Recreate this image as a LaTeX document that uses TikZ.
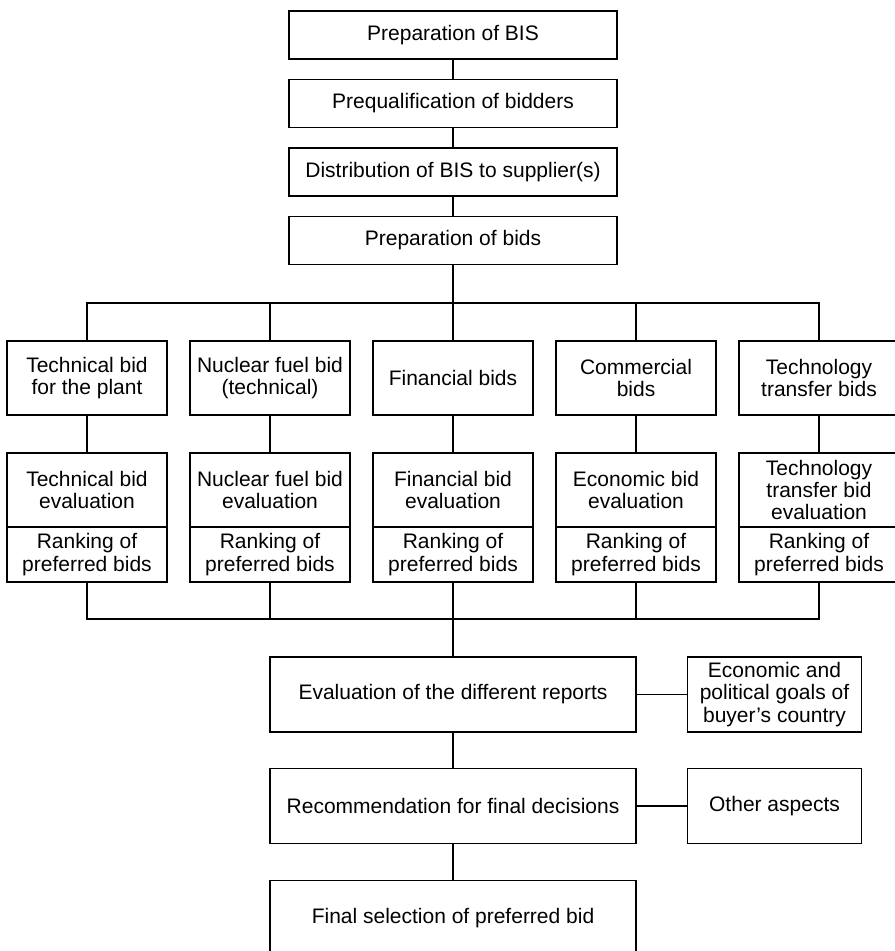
\documentclass[tikz,border=0pt]{standalone}
\usepackage{fontspec}
\setmainfont{Liberation Sans}
\usetikzlibrary{positioning}

\begin{document}
\begin{tikzpicture}[line width=0.6pt, node distance=34.25pt, on grid, auto,
    box/.style={draw, rectangle, align=center, inner sep=1pt, font=\fontsize{10.5pt}{11.2pt}\selectfont},
    topbox/.style={box, minimum width=164pt, minimum height=24pt},
    bidbox/.style={box, minimum width=80pt, minimum height=37pt},
    evbox/.style={box, minimum width=80pt, minimum height=37pt},
    rankbox/.style={box, minimum width=80pt, minimum height=27.5pt},
    bigbox/.style={box, minimum width=183pt, minimum height=37.5pt},
    sidebox/.style={box, minimum width=87pt, minimum height=37.5pt},
    hv/.style={to path={|- (\tikztotarget)}}]
   \useasboundingbox (0,0) rectangle (447pt,-475.5pt);
   % top chain
   \node[topbox] (prep)    at (226.5pt,-17.5pt) {Preparation of BIS};
   \node[topbox] (prequal) [below=of prep]      {Prequalification of bidders};
   \node[topbox] (distr)   [below=of prequal]   {Distribution of BIS to supplier(s)};
   \node[topbox] (bids)    [below=of distr]     {Preparation of bids};
   % the five kinds of bids
   \node[bidbox] (fin)  [below=68.75pt of bids] {Financial bids};
   \node[bidbox] (nuc)  [left=91.5pt of fin]    {Nuclear fuel bid\\(technical)};
   \node[bidbox] (tech) [left=91.5pt of nuc]    {Technical bid\\for the plant};
   \node[bidbox] (com)  [right=91.5pt of fin]   {Commercial\\bids};
   \node[bidbox] (tt)   [right=91.5pt of com]   {Technology\\transfer bids};
   % evaluations
   \node[evbox] (ev_tech) [below=56pt of tech] {Technical bid\\evaluation};
   \node[evbox] (ev_nuc)  [below=56pt of nuc]  {Nuclear fuel bid\\evaluation};
   \node[evbox] (ev_fin)  [below=56pt of fin]  {Financial bid\\evaluation};
   \node[evbox] (ev_com)  [below=56pt of com]  {Economic bid\\evaluation};
   \node[evbox] (ev_tt)   [below=56pt of tt]   {Technology\\transfer bid\\evaluation};
   \node[rankbox] (rk_tech) [below=32.25pt of ev_tech] {Ranking of\\preferred bids};
   \node[rankbox] (rk_nuc)  [below=32.25pt of ev_nuc]  {Ranking of\\preferred bids};
   \node[rankbox] (rk_fin)  [below=32.25pt of ev_fin]  {Ranking of\\preferred bids};
   \node[rankbox] (rk_com)  [below=32.25pt of ev_com]  {Ranking of\\preferred bids};
   \node[rankbox] (rk_tt)   [below=32.25pt of ev_tt]   {Ranking of\\preferred bids};
   % decision chain
   \node[bigbox] (reports) [below=70pt of rk_fin]     {Evaluation of the different reports};
   \node[bigbox] (recom)   [below=55.75pt of reports] {Recommendation for final decisions};
   \node[bigbox] (final)   [below=56pt of recom]      {Final selection of preferred bid};
   \node[sidebox] (goals)  [right=160.75pt of reports] {Economic and\\political goals of\\buyer’s country};
   \node[sidebox] (other)  [right=160.75pt of recom]   {Other aspects};
   \coordinate (split) at (226.5pt,-151.5pt);
   \coordinate (join)  at (226.5pt,-309.5pt);
   \path (prep)    edge (prequal)
         (prequal) edge (distr)
         (distr)   edge (bids)
         (bids)    edge (split)
         (tech)    edge [hv] (split)
         (nuc)     edge [hv] (split)
         (fin)     edge (split)
         (com)     edge [hv] (split)
         (tt)      edge [hv] (split)
         (tech)    edge (ev_tech)
         (nuc)     edge (ev_nuc)
         (fin)     edge (ev_fin)
         (com)     edge (ev_com)
         (tt)      edge (ev_tt)
         (rk_tech) edge [hv] (join)
         (rk_nuc)  edge [hv] (join)
         (rk_fin)  edge (join)
         (rk_com)  edge [hv] (join)
         (rk_tt)   edge [hv] (join)
         (join)    edge (reports)
         (reports) edge (recom)
         (recom)   edge (final)
         (reports) edge (goals)
         (recom)   edge (other);
\end{tikzpicture}
\end{document}
